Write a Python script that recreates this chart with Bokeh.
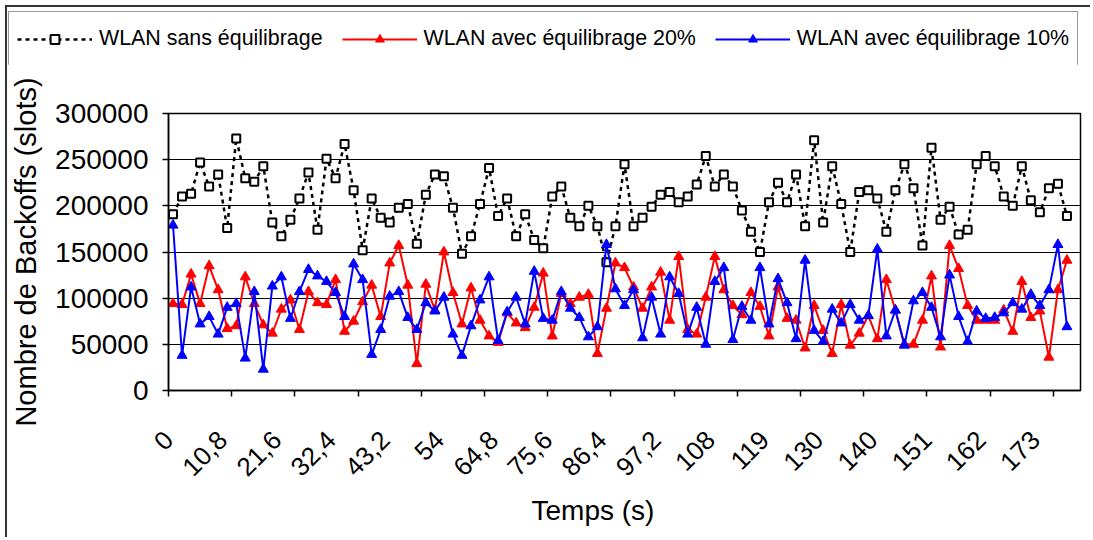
import numpy as np
from bokeh.plotting import figure
from bokeh.models import Range1d, FixedTicker, Legend, LegendItem, Title
from bokeh.embed import file_html
from bokeh.resources import INLINE

# ---------------- data ----------------
series_names = ["WLAN sans équilibrage", "WLAN avec équilibrage 20%", "WLAN avec équilibrage 10%"]

sans_eq = [191000, 210000, 213000, 247000, 221000, 234000, 176000, 273000, 230000, 226000,
           243000, 182000, 167000, 185000, 208000, 236000, 174000, 251000, 230000, 267000,
           217000, 152000, 208000, 187000, 182000, 198000, 202000, 159000, 212000, 234000,
           232000, 198000, 148000, 167000, 202000, 241000, 189000, 208000, 167000, 191000,
           163000, 154000, 210000, 221000, 187000, 178000, 200000, 178000, 139000, 178000,
           245000, 178000, 187000, 199000, 212000, 215000, 204000, 210000, 223000, 254000,
           221000, 234000, 221000, 195000, 172000, 150000, 204000, 225000, 204000, 234000,
           178000, 271000, 182000, 243000, 202000, 150000, 215000, 217000, 208000, 172000,
           217000, 245000, 219000, 157000, 263000, 185000, 199000, 169000, 174000, 245000,
           254000, 243000, 210000, 200000, 243000, 206000, 193000, 219000, 224000, 189000]

eq_20 = [94000, 93000, 126000, 94000, 135000, 109000, 67000, 70000, 123000, 94000,
         71000, 62000, 88000, 98000, 66000, 107000, 95000, 93000, 120000, 64000,
         75000, 96000, 114000, 80000, 138000, 157000, 114000, 29000, 115000, 87000,
         150000, 106000, 72000, 111000, 76000, 59000, 52000, 84000, 73000, 68000,
         90000, 127000, 59000, 105000, 94000, 101000, 104000, 40000, 89000, 138000,
         133000, 112000, 89000, 112000, 128000, 76000, 145000, 66000, 61000, 101000,
         145000, 109000, 92000, 82000, 106000, 91000, 59000, 112000, 78000, 76000,
         46000, 92000, 65000, 40000, 93000, 49000, 62000, 81000, 56000, 120000,
         87000, 50000, 50000, 76000, 124000, 47000, 157000, 132000, 92000, 76000,
         76000, 76000, 87000, 64000, 118000, 79000, 86000, 36000, 109000, 141000]

eq_10 = [179000, 38000, 112000, 72000, 80000, 61000, 90000, 94000, 35000, 107000,
         23000, 113000, 123000, 78000, 107000, 131000, 124000, 118000, 106000, 80000,
         137000, 120000, 39000, 66000, 102000, 107000, 79000, 66000, 95000, 86000,
         101000, 61000, 38000, 70000, 98000, 123000, 54000, 85000, 101000, 72000,
         129000, 78000, 76000, 107000, 89000, 79000, 58000, 69000, 158000, 110000,
         92000, 109000, 57000, 101000, 61000, 123000, 105000, 61000, 90000, 50000,
         118000, 133000, 55000, 91000, 76000, 133000, 72000, 121000, 95000, 56000,
         141000, 65000, 53000, 88000, 73000, 93000, 76000, 81000, 153000, 59000,
         87000, 49000, 97000, 106000, 90000, 58000, 125000, 80000, 53000, 86000,
         78000, 79000, 84000, 95000, 88000, 104000, 92000, 109000, 158000, 69000]

x_tick_labels = ["0", "10,8", "21,6", "32,4", "43,2", "54", "64,8", "75,6", "86,4",
                 "97,2", "108", "119", "130", "140", "151", "162", "173"]
label_every = 6        # one label every 6 samples
tick_every = 7         # one tick mark every 7 categories
y_ticks = [0, 50000, 100000, 150000, 200000, 250000, 300000]

FONT = "Liberation Sans"
BLACK_LINE = dict(line_color="black", line_width=2.5, line_dash="4 4")
BLACK_MARK = dict(marker="square", size=8, line_color="black", line_width=2, fill_color="white")
RED_LINE = dict(line_color="#FF0000", line_width=2)
RED_MARK = dict(marker="triangle", size=10, fill_color="#FF0000", line_color="#FF0000")
BLUE_LINE = dict(line_color="#0000FF", line_width=2)
BLUE_MARK = dict(marker="triangle", size=10, fill_color="#0000FF", line_color="#0000FF")

n = len(sans_eq)
n_cat = n + 1
xs = np.arange(n)
W = 1085

# ---------------- legend strip: its own root so that it is neither aligned nor clipped ----------------
LH = 59
lf = figure(width=W, height=LH, output_backend="svg", toolbar_location=None,
            x_axis_location=None, y_axis_location=None, min_border=0,
            x_range=Range1d(-1000, -999), y_range=Range1d(-1000, -999))
lf.styles = {"display": "block", "margin-left": "5px", "margin-top": "5px",
             "border-left": "2px solid #333333", "border-top": "2px solid #333333"}
lf.outline_line_color = None
lf.grid.grid_line_color = None
lf.background_fill_color = "white"
lf.border_fill_color = "white"
# same series, out of this strip's view: they only feed the legend's sample glyphs
lb_l = lf.line(xs, sans_eq, **BLACK_LINE)
lb_m = lf.scatter(xs, sans_eq, **BLACK_MARK)
lr_l = lf.line(xs, eq_20, **RED_LINE)
lr_m = lf.scatter(xs, eq_20, **RED_MARK)
lbl_l = lf.line(xs, eq_10, **BLUE_LINE)
lbl_m = lf.scatter(xs, eq_10, **BLUE_MARK)
legend = Legend(items=[
    LegendItem(label=series_names[0], renderers=[lb_l, lb_m]),
    LegendItem(label=series_names[1], renderers=[lr_l, lr_m]),
    LegendItem(label=series_names[2], renderers=[lbl_l, lbl_m]),
], orientation="horizontal", location=(1, 0))
legend.border_line_color = "#333333"
legend.border_line_width = 1
legend.background_fill_color = "white"
legend.background_fill_alpha = 1
legend.padding = 8
legend.margin = 0
legend.spacing = 19
legend.label_standoff = 7
legend.glyph_width = 75
legend.glyph_height = 22
legend.label_height = 37
legend.label_text_font = FONT
legend.label_text_font_size = "21.4px"
legend.label_text_color = "black"
lf.add_layout(legend, "center")

# ---------------- main chart ----------------
H = 473
p = figure(width=W, height=H, output_backend="svg", toolbar_location=None,
           x_range=Range1d(-0.5, n_cat - 0.5), y_range=Range1d(0, 300000),
           min_border_left=161, min_border_right=12, min_border_top=49, min_border_bottom=147)
p.styles = {"margin-left": "5px", "border-left": "2px solid #333333"}
p.background_fill_color = "white"
p.border_fill_color = "white"
p.outline_line_color = "black"
p.outline_line_width = 1.5

p.line(xs, sans_eq, **BLACK_LINE)
p.scatter(xs, sans_eq, **BLACK_MARK)
p.line(xs, eq_20, **RED_LINE)
p.scatter(xs, eq_20, **RED_MARK)
p.line(xs, eq_10, **BLUE_LINE)
p.scatter(xs, eq_10, **BLUE_MARK)

# x axis: tick marks every 7 categories, labels every 6 samples
xlab_pos = [label_every * k - 0.5 for k in range(len(x_tick_labels))]
tick_pos = [-0.5 + tick_every * k for k in range(n_cat // tick_every + 1)]
p.xaxis.ticker = FixedTicker(ticks=xlab_pos, minor_ticks=tick_pos)
p.xaxis.major_label_overrides = {pos: lab for pos, lab in zip(xlab_pos, x_tick_labels)}
p.xaxis.major_label_orientation = np.pi / 4
p.xaxis.axis_line_color = "black"
p.xaxis.axis_line_width = 1.5
p.xaxis.major_tick_out = 0
p.xaxis.major_tick_in = 0
p.xaxis.minor_tick_out = 6
p.xaxis.minor_tick_in = 0
p.xaxis.minor_tick_line_color = "black"
p.xaxis.minor_tick_line_width = 1.5
p.xaxis.major_label_standoff = 39
p.xaxis.major_label_text_font = FONT
p.xaxis.major_label_text_font_size = "26px"
p.xaxis.major_label_text_color = "black"

# y axis
p.yaxis.ticker = FixedTicker(ticks=y_ticks, minor_ticks=[])
p.yaxis.major_label_overrides = {v: str(v) for v in y_ticks}
p.yaxis.axis_line_color = "black"
p.yaxis.axis_line_width = 1.5
p.yaxis.major_tick_out = 6
p.yaxis.major_tick_in = 0
p.yaxis.major_tick_line_color = "black"
p.yaxis.major_tick_line_width = 1.5
p.yaxis.minor_tick_out = 0
p.yaxis.minor_tick_in = 0
p.yaxis.major_label_standoff = 14
p.yaxis.major_label_text_font = FONT
p.yaxis.major_label_text_font_size = "28px"
p.yaxis.major_label_text_color = "black"
p.yaxis.axis_label = "Nombre de Backoffs (slots)"
p.yaxis.axis_label_text_font = FONT
p.yaxis.axis_label_text_font_size = "29px"
p.yaxis.axis_label_text_font_style = "normal"
p.yaxis.axis_label_text_color = "black"
p.yaxis.axis_label_standoff = 10

p.xgrid.grid_line_color = None
p.ygrid.grid_line_color = "black"
p.ygrid.grid_line_width = 1
p.ygrid.ticker = FixedTicker(ticks=y_ticks)

# x-axis title, a little left of the centre as in the original
p.add_layout(Title(text="Temps (s)", align="left", offset=363, standoff=10,
                   text_font=FONT, text_font_size="28px", text_font_style="normal",
                   text_color="black"), "below")

open("out.html", "w").write(file_html([lf, p], INLINE))
